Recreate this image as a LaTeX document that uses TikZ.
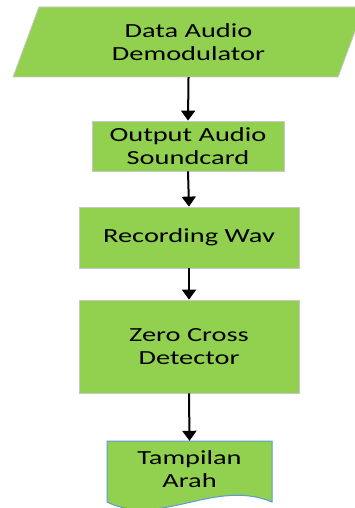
\documentclass[tikz,border=0pt]{standalone}
\usepackage{fontspec}
\setmainfont{Carlito}[FakeStretch=1.42]
\usepackage{tikz}
\usetikzlibrary{shapes.geometric, arrows.meta, positioning}
\definecolor{boxgreen}{HTML}{92D050}
\definecolor{docblue}{HTML}{5B9BD5}
\definecolor{edgegray}{HTML}{C8C8C8}

\begin{document}
\begin{tikzpicture}[x=1pt,y=-1pt,
    every node/.style={font=\fontsize{20}{23}\selectfont, align=center, text=black},
    process/.style={rectangle, fill=boxgreen, draw=edgegray, line width=0.8pt},
    datain/.style={trapezium, trapezium left angle=55, trapezium right angle=125,
      trapezium stretches body, fill=boxgreen, draw=edgegray, line width=0.8pt,
      minimum width=351pt, minimum height=70pt, inner sep=0pt, outer sep=0pt},
    flow/.style={line width=2pt, -{Triangle[width=14pt,length=10pt]}}]
      \clip(0,0)rectangle(355,508);
      \fill[white](0,0)rectangle(355,508);
      \node[datain](demod)at(188.5,42){Data Audio\\Demodulator};
      \node[process,minimum width=192pt,minimum height=50pt](outcard)at(188,146){Output Audio\\Soundcard};
      \node[process,minimum width=220pt,minimum height=61pt](recwav)at(189,237.5){Recording Wav};
      \node[process,minimum width=220pt,minimum height=93pt](zerocross)at(189,346.5){Zero Cross\\Detector};
      \fill[boxgreen,draw=docblue,line width=1pt](107,441)--(272,441)--(272,502)
        ..controls(215,478)and(160,528)..(107,502)--cycle;
      \node[minimum width=165pt,minimum height=56pt](arah)at(189.5,469){Tampilan\\Arah};
      \draw[flow](demod.south)--(outcard.north);
      \draw[flow](outcard.south)--(recwav.north);
      \draw[flow](recwav.south)--(zerocross.north);
      \draw[flow](zerocross.south)--(arah.north);
    \end{tikzpicture}
\end{document}
